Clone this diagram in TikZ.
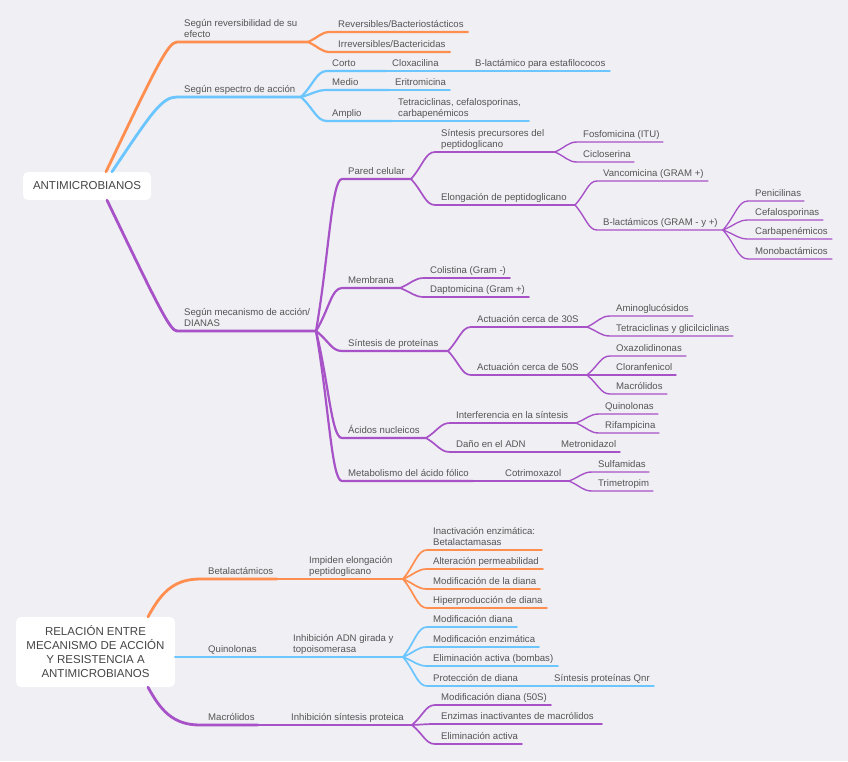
\documentclass[tikz,border=0pt]{standalone}
\usepackage{fontspec}
\setmainfont{Liberation Sans}
\usetikzlibrary{calc}
\definecolor{bgc}{HTML}{EFEFF4}
\definecolor{corange}{HTML}{FF8E4F}
\definecolor{cblue}{HTML}{6BC5FF}
\definecolor{cpurple}{HTML}{A852C8}
\definecolor{txtc}{HTML}{555555}
\definecolor{rootc}{HTML}{444444}
\tikzset{
  lbl/.style={font=\fontsize{9.6}{11.3}\selectfont, text=txtc, inner sep=0pt, align=left},
  rootbox/.style={fill=white, rounded corners=5pt, draw=none, font=\fontsize{11.5}{14}\selectfont, text=rootc, align=center, inner sep=0pt},
  oc/.style={draw=corange}, bc/.style={draw=cblue}, pc/.style={draw=cpurple},
  lv1/.style={line width=2.8pt, line cap=round, line join=round},
  lv2/.style={line width=2.2pt, line cap=round, line join=round},
  lv3/.style={line width=1.7pt, line cap=round, line join=round},
  lv4/.style={line width=1.4pt, line cap=round, line join=round},
  lv5/.style={line width=1.3pt, line cap=round, line join=round},
}
% #1 name, #2 parent, #3 style, #4 xs, #5 xe, #6 y, #7 text x, #8 text
% (the base anchor of a multi-line label is its last line)
\newcommand\mmone[8]{%
  \coordinate (#1s) at (#4,-#6);
  \coordinate (#1e) at (#5,-#6);
  \draw[#3] (#2e) .. controls ($(#2e)!0.5!(#1s)$) and ($(#2e |- #1s)!0.6!(#1s)$) .. (#1s) -- (#1e);
  \node[lbl,anchor=base west] (#1) at (#7,-#6+4.5) {#8};
}
\begin{document}
\begin{tikzpicture}[x=1pt,y=1pt]
\useasboundingbox (0,0) rectangle (848,-761);
\fill[bgc] (0,0) rectangle (848,-761);

% ---------- TOP MAP ----------
\node[rootbox, minimum width=128pt, minimum height=28pt] (A) at (87,-186) {ANTIMICROBIANOS};

\coordinate (A1s) at (177,-42); \coordinate (A1e) at (308,-42);
\draw[oc,lv1] ([xshift=19pt]A.north) .. controls (155.6,-68) and (168,-42) .. (A1s) -- (A1e);
\node[lbl,anchor=base west] (A1) at (184,-42+4.5) {Según reversibilidad de su\\efecto};

\coordinate (A2s) at (177,-97); \coordinate (A2e) at (301,-97);
\draw[bc,lv1] ([xshift=25pt]A.north) .. controls (152,-112) and (162,-97) .. (A2s) -- (A2e);
\node[lbl,anchor=base west] (A2) at (184,-97+4.5) {Según espectro de acción};

\coordinate (A3s) at (177,-331); \coordinate (A3e) at (316,-331);
\draw[pc,lv1] ([xshift=20pt]A.south) .. controls (157.4,-304.8) and (170,-331) .. (A3s) -- (A3e);
\node[lbl,anchor=base west] (A3) at (184,-331+4.5) {Según mecanismo de acción/\\DIANAS};

% orange children
\mmone{a11}{A1}{oc,lv2}{330}{468}{32}{338}{Reversibles/Bacteriostácticos}
\mmone{a12}{A1}{oc,lv2}{330}{450}{52}{338}{Irreversibles/Bactericidas}

% blue children
\mmone{a21}{A2}{bc,lv2}{327}{386}{71}{332}{Corto}
\mmone{a211}{a21}{bc,lv3}{386}{469}{71}{392}{Cloxacilina}
\mmone{a2111}{a211}{bc,lv4}{469}{610}{71}{475}{B-lactámico para estafilococos}
\mmone{a22}{A2}{bc,lv2}{327}{389}{90}{332}{Medio}
\mmone{a221}{a22}{bc,lv3}{389}{450}{90}{395}{Eritromicina}
\mmone{a23}{A2}{bc,lv2}{327}{392}{121}{332}{Amplio}
\mmone{a231}{a23}{bc,lv3}{392}{529}{121}{398}{Tetraciclinas, cefalosporinas,\\carbapenémicos}

% purple children
\mmone{b1}{A3}{pc,lv2}{342}{411}{179}{348}{Pared celular}
\mmone{b11}{b1}{pc,lv3}{435}{555}{152}{441}{Síntesis precursores del\\peptidoglicano}
\mmone{b111}{b11}{pc,lv4}{577}{663}{142}{583}{Fosfomicina (ITU)}
\mmone{b112}{b11}{pc,lv4}{577}{634}{162}{583}{Cicloserina}
\mmone{b12}{b1}{pc,lv3}{435}{575}{205}{441}{Elongación de peptidoglicano}
\mmone{b121}{b12}{pc,lv4}{597}{708}{181}{603}{Vancomicina (GRAM +)}
\mmone{b122}{b12}{pc,lv4}{597}{723}{230}{603}{B-lactámicos (GRAM - y +)}
\mmone{b1221}{b122}{pc,lv5}{748}{804}{201}{755}{Penicilinas}
\mmone{b1222}{b122}{pc,lv5}{748}{823}{220}{755}{Cefalosporinas}
\mmone{b1223}{b122}{pc,lv5}{748}{832}{239}{755}{Carbapenémicos}
\mmone{b1224}{b122}{pc,lv5}{748}{832}{259}{755}{Monobactámicos}

\mmone{b2}{A3}{pc,lv2}{342}{400}{288}{348}{Membrana}
\mmone{b21}{b2}{pc,lv3}{424}{510}{278}{430}{Colistina (Gram -)}
\mmone{b22}{b2}{pc,lv3}{424}{529}{297}{430}{Daptomicina (Gram +)}

\mmone{b3}{A3}{pc,lv2}{342}{448}{351}{348}{Síntesis de proteínas}
\mmone{b31}{b3}{pc,lv3}{471}{587}{327}{477}{Actuación cerca de 30S}
\mmone{b311}{b31}{pc,lv4}{610}{693}{316}{616}{Aminoglucósidos}
\mmone{b312}{b31}{pc,lv4}{610}{733}{336}{616}{Tetraciclinas y glicilciclinas}
\mmone{b32}{b3}{pc,lv3}{471}{587}{375}{477}{Actuación cerca de 50S}
\mmone{b321}{b32}{pc,lv4}{610}{686}{356}{616}{Oxazolidinonas}
\mmone{b322}{b32}{pc,lv4}{610}{676}{375}{616}{Cloranfenicol}
\mmone{b323}{b32}{pc,lv4}{610}{667}{394}{616}{Macrólidos}

\mmone{b4}{A3}{pc,lv2}{342}{426}{438}{348}{Ácidos nucleicos}
\mmone{b41}{b4}{pc,lv3}{450}{576}{423}{456}{Interferencia en la síntesis}
\mmone{b411}{b41}{pc,lv4}{599}{658}{414}{605}{Quinolonas}
\mmone{b412}{b41}{pc,lv4}{599}{659}{433}{605}{Rifampicina}
\mmone{b42}{b4}{pc,lv3}{450}{529}{452}{456}{Daño en el ADN}
\mmone{b421}{b42}{pc,lv4}{529}{620}{452}{561}{Metronidazol}

\mmone{b5}{A3}{pc,lv2}{342}{473}{481}{348}{Metabolismo del ácido fólico}
\mmone{b51}{b5}{pc,lv3}{473}{569}{481}{505}{Cotrimoxazol}
\mmone{b511}{b51}{pc,lv4}{592}{649}{472}{598}{Sulfamidas}
\mmone{b512}{b51}{pc,lv4}{592}{653}{491}{598}{Trimetropim}

% ---------- BOTTOM MAP ----------
\node[rootbox, minimum width=159pt, minimum height=70pt] (R) at (95.5,-652)
  {RELACIÓN ENTRE\\MECANISMO DE ACCIÓN\\Y RESISTENCIA A\\ANTIMICROBIANOS};

\coordinate (R1s) at (200,-579); \coordinate (R1e) at (277,-579);
\draw[oc,lv1] ([xshift=52.5pt]R.north) .. controls (160,-595) and (172,-579) .. (R1s) -- (R1e);
\node[lbl,anchor=base west] (R1) at (208,-579+4.5) {Betalactámicos};

\coordinate (R2s) at (200,-657); \coordinate (R2e) at (260,-657);
\draw[bc,lv1] ([yshift=-5pt]R.east) -- (R2s) -- (R2e);
\node[lbl,anchor=base west] (R2) at (208,-657+4.5) {Quinolonas};

\coordinate (R3s) at (200,-725); \coordinate (R3e) at (258,-725);
\draw[pc,lv1] ([xshift=52.5pt]R.south) .. controls (160,-709) and (172,-725) .. (R3s) -- (R3e);
\node[lbl,anchor=base west] (R3) at (208,-725+4.5) {Macrólidos};

\mmone{r11}{R1}{oc,lv2}{277}{403}{579}{309}{Impiden elongación\\peptidoglicano}
\mmone{r111}{r11}{oc,lv3}{427}{542}{550}{433}{Inactivación enzimática:\\Betalactamasas}
\mmone{r112}{r11}{oc,lv3}{427}{543}{569}{433}{Alteración permeabilidad}
\mmone{r113}{r11}{oc,lv3}{427}{540}{589}{433}{Modificación de la diana}
\mmone{r114}{r11}{oc,lv3}{427}{547}{608}{433}{Hiperproducción de diana}

\mmone{r21}{R2}{bc,lv2}{260}{403}{657}{293}{Inhibición ADN girada y\\topoisomerasa}
\mmone{r211}{r21}{bc,lv3}{427}{517}{627}{433}{Modificación diana}
\mmone{r212}{r21}{bc,lv3}{427}{539}{647}{433}{Modificación enzimática}
\mmone{r213}{r21}{bc,lv3}{427}{558}{666}{433}{Eliminación activa (bombas)}
\mmone{r214}{r21}{bc,lv3}{427}{522}{686}{433}{Protección de diana}
\mmone{r2141}{r214}{bc,lv4}{522}{654}{686}{554}{Síntesis proteínas Qnr}

\mmone{r31}{R3}{pc,lv2}{258}{412}{725}{291}{Inhibición síntesis proteica}
\mmone{r311}{r31}{pc,lv3}{435}{551}{705}{441}{Modificación diana (50S)}
\mmone{r312}{r31}{pc,lv3}{435}{602}{724}{441}{Enzimas inactivantes de macrólidos}
\mmone{r313}{r31}{pc,lv3}{435}{522}{744}{441}{Eliminación activa}
\end{tikzpicture}
\end{document}
